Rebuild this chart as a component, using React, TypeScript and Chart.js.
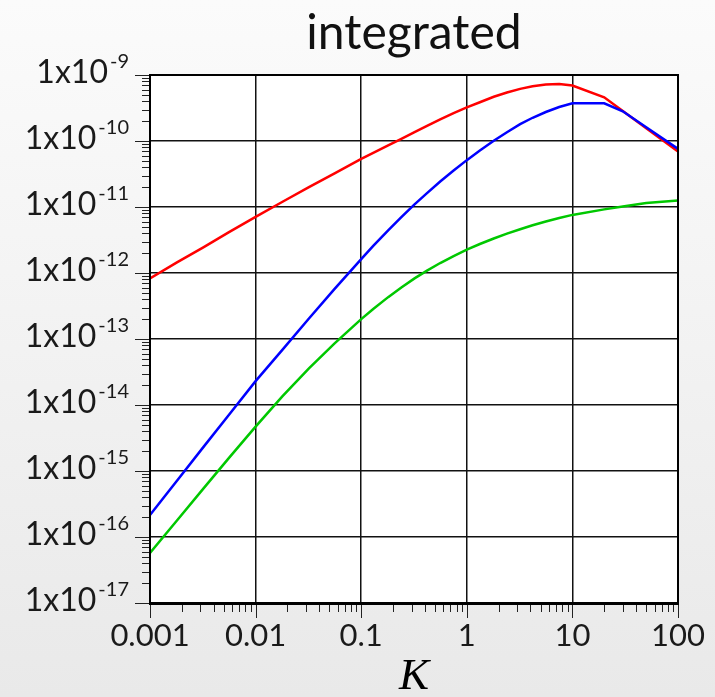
import React, { useEffect, useRef } from 'react';
import { Chart, registerables } from 'chart.js';

Chart.register(...registerables);

// ---- data ----
const kValues = [
  0.001, 0.0018, 0.0032, 0.0056, 0.01, 0.018, 0.032, 0.056, 0.1,
  0.13, 0.18, 0.24, 0.32, 0.42, 0.56, 0.75, 1,
  1.33, 1.8, 2.4, 3.2, 4.2, 5.6, 7.5, 10,
  20, 30, 50, 100,
];
const redValues = [
  8.3e-13, 1.45e-12, 2.45e-12, 4.17e-12, 7.1e-12, 1.2e-11, 2.0e-11, 3.24e-11, 5.37e-11,
  6.62e-11, 8.59e-11, 1.081e-10, 1.36e-10, 1.69e-10, 2.13e-10, 2.65e-10, 3.23e-10,
  3.86e-10, 4.68e-10, 5.43e-10, 6.17e-10, 6.76e-10, 7.19e-10, 7.28e-10, 6.92e-10,
  4.59e-10, 2.84e-10, 1.56e-10, 6.92e-11,
];
const blueValues = [
  2.15e-16, 7.1e-16, 2.3e-15, 7.1e-15, 2.3e-14, 6.9e-14, 2.04e-13, 5.75e-13, 1.62e-12,
  2.57e-12, 4.44e-12, 7.03e-12, 1.094e-11, 1.626e-11, 2.43e-11, 3.57e-11, 5.13e-11,
  7.19e-11, 1.007e-10, 1.36e-10, 1.8e-10, 2.25e-10, 2.75e-10, 3.27e-10, 3.72e-10,
  3.72e-10, 2.82e-10, 1.62e-10, 7.6e-11,
];
const greenValues = [
  5.75e-17, 1.78e-16, 5.4e-16, 1.58e-15, 4.7e-15, 1.36e-14, 3.6e-14, 8.6e-14, 2.0e-13,
  2.85e-13, 4.31e-13, 6.04e-13, 8.28e-13, 1.086e-12, 1.416e-12, 1.807e-12, 2.26e-12,
  2.75e-12, 3.33e-12, 3.94e-12, 4.61e-12, 5.28e-12, 6.04e-12, 6.82e-12, 7.59e-12,
  9.2e-12, 1.02e-11, 1.15e-11, 1.26e-11,
];

const xTickValues = [0.001, 0.01, 0.1, 1, 10, 100];
const xTickLabels = ['0.001', '0.01', '0.1', '1', '10', '100'];
const yTickValues = [1e-17, 1e-16, 1e-15, 1e-14, 1e-13, 1e-12, 1e-11, 1e-10, 1e-9];
const yTickBase = '1x10';
const yTickExponents = ['-17', '-16', '-15', '-14', '-13', '-12', '-11', '-10', '-9'];
const minorMultipliers = [2, 3, 4, 5, 6, 7, 8, 9];

const titleText = 'integrated';
const xAxisTitle = 'K';

const LABEL_FONT = 'Lato, "Open Sans", sans-serif';

const framePlugin = {
  id: 'frameAndTicks',
  beforeDraw(chart: any) {
    const { ctx, chartArea: a } = chart;
    ctx.save();
    ctx.fillStyle = '#ffffff';
    ctx.fillRect(a.left, a.top, a.right - a.left, a.bottom - a.top);
    ctx.restore();
  },
  afterDraw(chart: any) {
    const { ctx, chartArea: a, scales } = chart;
    const xs = scales.x;
    const ys = scales.y;
    ctx.save();
    ctx.strokeStyle = '#222';
    ctx.lineWidth = 1;
    // x-axis tick marks (outside, below)
    xTickValues.forEach((dec, i) => {
      const px = Math.round(xs.getPixelForValue(dec)) + 0.5;
      ctx.beginPath();
      ctx.moveTo(px, a.bottom);
      ctx.lineTo(px, a.bottom + 15);
      ctx.stroke();
      if (i < xTickValues.length - 1) {
        minorMultipliers.forEach((m) => {
          const mx = Math.round(xs.getPixelForValue(dec * m)) + 0.5;
          ctx.beginPath();
          ctx.moveTo(mx, a.bottom);
          ctx.lineTo(mx, a.bottom + 9);
          ctx.stroke();
        });
      }
    });
    // y-axis tick marks (outside, left)
    yTickValues.forEach((dec, i) => {
      const py = Math.round(ys.getPixelForValue(dec)) + 0.5;
      ctx.beginPath();
      ctx.moveTo(a.left, py);
      ctx.lineTo(a.left - 15, py);
      ctx.stroke();
      if (i < yTickValues.length - 1) {
        minorMultipliers.forEach((m) => {
          const my = Math.round(ys.getPixelForValue(dec * m)) + 0.5;
          ctx.beginPath();
          ctx.moveTo(a.left, my);
          ctx.lineTo(a.left - 8, my);
          ctx.stroke();
        });
      }
    });
    // frame
    ctx.strokeStyle = '#000';
    ctx.lineWidth = 2;
    ctx.strokeRect(a.left, a.top, a.right - a.left, a.bottom - a.top);
    ctx.lineWidth = 3;
    ctx.beginPath();
    ctx.moveTo(a.left - 1, a.bottom + 0.5);
    ctx.lineTo(a.right + 1, a.bottom + 0.5);
    ctx.stroke();
    // y tick labels with superscript exponents
    ctx.fillStyle = '#1a1a1a';
    ctx.textAlign = 'right';
    ctx.textBaseline = 'alphabetic';
    const rightEdge = 129;
    yTickValues.forEach((v, i) => {
      const py = ys.getPixelForValue(v);
      ctx.font = `20px ${LABEL_FONT}`;
      const exp = yTickExponents[i];
      const w = ctx.measureText(exp).width;
      ctx.fillText(exp, rightEdge, py - 7);
      ctx.font = `32px ${LABEL_FONT}`;
      ctx.fillText(yTickBase, rightEdge - w - 2, py + 8);
    });
    ctx.restore();
  },
};

export default function App() {
  const canvasRef = useRef<HTMLCanvasElement | null>(null);

  useEffect(() => {
    const canvas = canvasRef.current;
    if (!canvas) return;
    const toPoints = (ys: number[]) => kValues.map((k, i) => ({ x: k, y: ys[i] }));
    const lineStyle = { borderWidth: 2.5, pointRadius: 0, tension: 0, fill: false };
    const chart = new Chart(canvas, {
      type: 'line',
      data: {
        datasets: [
          { label: 'blue', data: toPoints(blueValues), borderColor: '#0000ff', ...lineStyle },
          { label: 'red', data: toPoints(redValues), borderColor: '#ff0000', ...lineStyle },
          { label: 'green', data: toPoints(greenValues), borderColor: '#00c800', ...lineStyle },
        ],
      },
      options: {
        animation: false,
        responsive: false,
        devicePixelRatio: 1,
        layout: { padding: { left: 0, right: 37, top: 0, bottom: 0 } },
        plugins: {
          legend: { display: false },
          tooltip: { enabled: false },
          title: {
            display: true,
            text: titleText,
            fullSize: false,
            color: '#111',
            font: { family: LABEL_FONT, size: 48, weight: 'normal', lineHeight: 1 },
            padding: { top: 10, bottom: 17 },
          },
        },
        scales: {
          x: {
            type: 'logarithmic',
            min: 0.001,
            max: 100,
            afterBuildTicks: (scale: any) => {
              scale.ticks = xTickValues.map((v) => ({ value: v }));
            },
            afterFit: (scale: any) => {
              scale.height = 94;
              scale.paddingLeft = 0;
              scale.paddingRight = 0;
            },
            grid: { color: '#111', lineWidth: 1.5, drawTicks: false },
            border: { display: false },
            ticks: {
              autoSkip: false,
              maxRotation: 0,
              padding: 17,
              color: '#1a1a1a',
              font: { family: LABEL_FONT, size: 31, lineHeight: 1 },
              callback: (_v: any, i: number) => xTickLabels[i],
            },
            title: {
              display: true,
              text: xAxisTitle,
              color: '#000',
              font: { family: '"Liberation Serif", "Times New Roman", serif', style: 'italic', size: 45, lineHeight: 1 },
              padding: { top: 0, bottom: -3 },
            },
          },
          y: {
            type: 'logarithmic',
            min: 1e-17,
            max: 1e-9,
            afterBuildTicks: (scale: any) => {
              scale.ticks = yTickValues.map((v) => ({ value: v }));
            },
            afterFit: (scale: any) => {
              scale.width = 150;
              scale.paddingTop = 0;
              scale.paddingBottom = 0;
            },
            grid: { color: '#111', lineWidth: 1.5, drawTicks: false },
            border: { display: false },
            ticks: { display: false },
          },
        },
      },
      plugins: [framePlugin],
    } as any);
    return () => chart.destroy();
  }, []);

  return (
    <div
      style={{
        position: 'fixed',
        left: 0,
        top: 0,
        width: 715,
        height: 697,
        background: 'linear-gradient(#fbfbfb, #e9e9e9)',
      }}
    >
      <canvas ref={canvasRef} width={715} height={697} style={{ display: 'block' }} />
    </div>
  );
}
